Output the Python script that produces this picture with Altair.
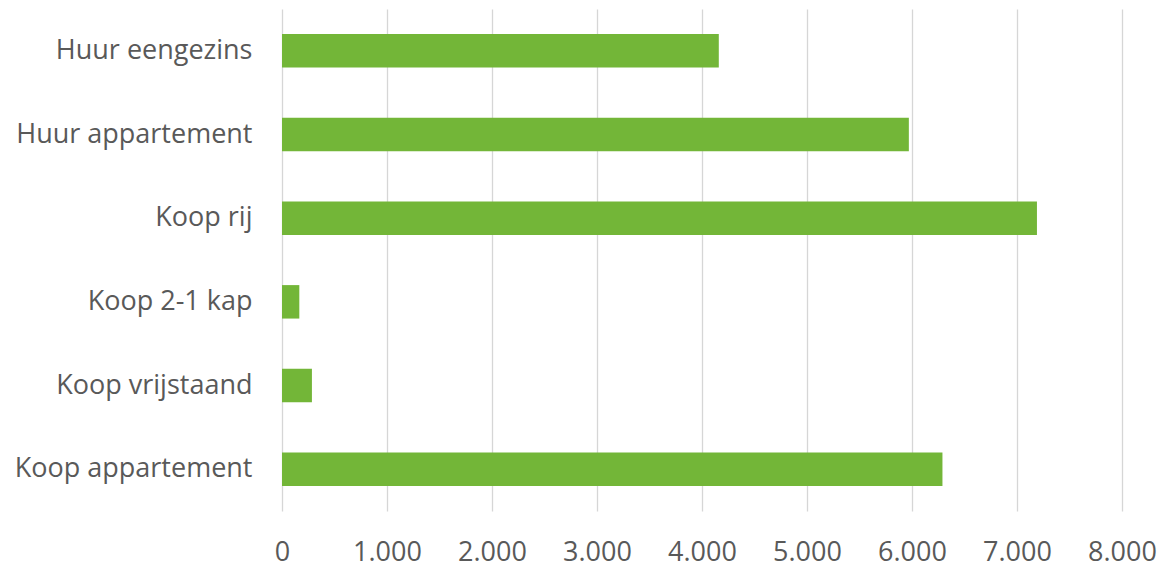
import altair as alt
import pandas as pd

categories = ["Huur eengezins", "Huur appartement", "Koop rij", "Koop 2-1 kap", "Koop vrijstaand", "Koop appartement"]
values = [4160, 5970, 7190, 165, 285, 6290]
x_ticks = [0, 1000, 2000, 3000, 4000, 5000, 6000, 7000, 8000]

df = pd.DataFrame({"cat": categories, "val": values})

chart = alt.Chart(df).mark_bar(color="#73B638").encode(
    x=alt.X("val:Q", scale=alt.Scale(domain=[0, 8000], nice=False),
            axis=alt.Axis(values=x_ticks, title=None, domain=False, ticks=False,
                          grid=True, gridColor="#D6D6D6", gridWidth=1.3,
                          labelExpr="replace(format(datum.value, ','), ',', '.')",
                          labelFont="Open Sans", labelFontSize=27, labelColor="#595959",
                          labelFlush=False, labelPadding=28)),
    y=alt.Y("cat:N", sort=categories,
            scale=alt.Scale(paddingInner=0.6, paddingOuter=0.3),
            axis=alt.Axis(title=None, domain=False, ticks=False, grid=False,
                          labelFont="Open Sans", labelFontSize=27, labelColor="#595959",
                          labelPadding=30, labelLimit=400)),
).properties(
    width=840, height=502,
    autosize=alt.AutoSizeParams(type="none"),
    padding={"left": 274, "top": 1, "right": 40, "bottom": 60},
).configure(background="white").configure_view(stroke=None)

chart.save("out.html", embed_options={"renderer": "svg", "actions": False})
